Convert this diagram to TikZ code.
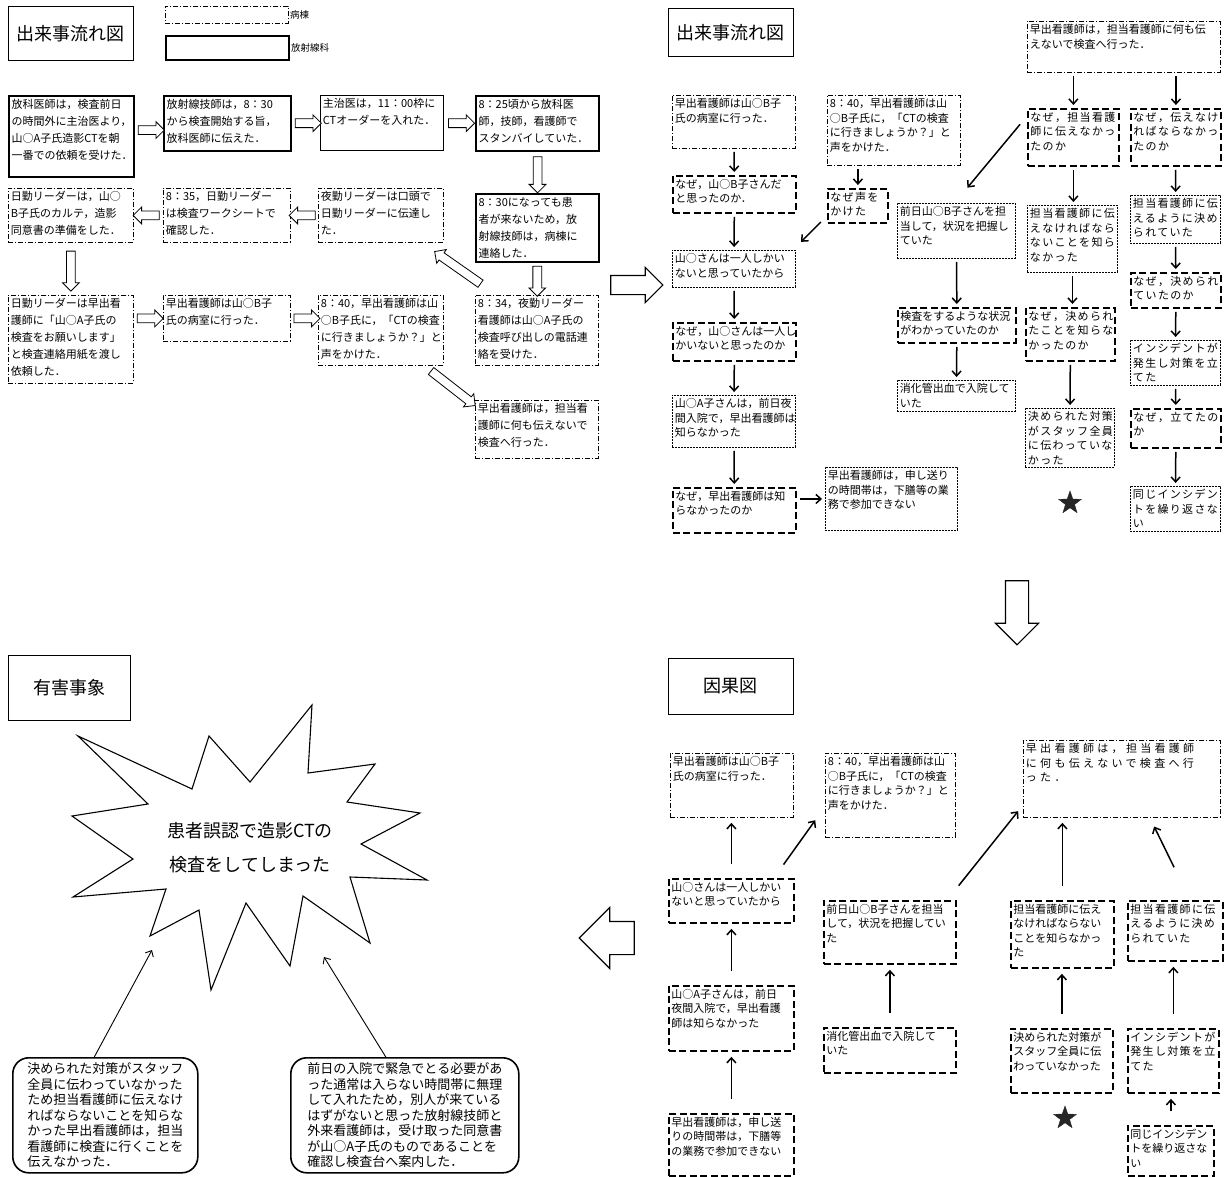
\documentclass[tikz,border=0pt]{standalone}
\usepackage{fontspec}
\setmainfont{Noto Sans CJK JP}
\newfontfamily\spacedjp[LetterSpace=12]{Noto Sans CJK JP}
\newfontfamily\widejp[LetterSpace=30]{Noto Sans CJK JP}
\usetikzlibrary{arrows.meta, shapes.geometric, shapes.arrows, calc}
\newcommand{\boxtext}[3]{\parbox[c][\dimexpr#2pt-6pt\relax][t]{\dimexpr#1pt-5pt\relax}{#3}}

\begin{document}
\begin{tikzpicture}[
    x=1pt, y=-1pt, >={Straight Barb[length=5pt, width=9pt]},
    every node/.style={font=\fontsize{11}{14.5}\selectfont},
    boxbase/.style={anchor=north west, inner xsep=2.5pt, inner ysep=3pt},
    loose/.style={font=\fontsize{11}{17}\selectfont},
    spaced/.style={font=\spacedjp\fontsize{11}{14.5}\selectfont},
    ward/.style={boxbase, draw, line width=0.8pt, dash pattern=on 5pt off 2pt on 1pt off 2pt},
    rad/.style={boxbase, draw, line width=2.2pt},
    plain/.style={boxbase, draw, line width=0.7pt},
    why/.style={boxbase, draw, line width=1.8pt, dash pattern=on 7pt off 3.5pt},
    fact/.style={boxbase, draw, line width=0.9pt, dash pattern=on 2pt off 1pt},
    titlebox/.style={anchor=north west, draw, line width=0.8pt, font=\fontsize{18}{20}\selectfont},
    hollow/.style={shape=single arrow, draw, line width=0.8pt, fill=white, inner sep=4pt, single arrow head extend=4pt, minimum height=26pt},
    bighollow/.style={shape=single arrow, draw, line width=1.1pt, fill=white},
    link/.style={->, line width=1.5pt, shorten <=3pt, shorten >=3pt},
    uplink/.style={link, shorten <=14pt, shorten >=5pt},
    thinlink/.style={->, line width=0.9pt},
    cause/.style={anchor=north west, draw, line width=1.6pt, rounded corners=16pt, align=left, inner xsep=12pt, font=\fontsize{13}{15.5}\selectfont},
    starmark/.style={shape=star, star points=5, star point ratio=2.5, fill=black!85, draw=black!85, minimum size=24pt, inner sep=0pt}
]
\useasboundingbox (0,0) rectangle (1226,1177);

\node[titlebox, minimum width=125pt, minimum height=54pt] (title_flow) at (8,6) {出来事流れ図};
\node[ward, minimum width=123pt, minimum height=17pt] (leg_ward) at (165,6) {};
\node[anchor=west, inner sep=1pt, font=\fontsize{9.5}{11}\selectfont] (leg_ward_txt) at (leg_ward.east) {病棟};
\node[rad, minimum width=123pt, minimum height=24pt, line width=1.8pt] (leg_rad) at (165,35) {};
\node[anchor=west, inner sep=1pt, font=\fontsize{9.5}{11}\selectfont] (leg_rad_txt) at (leg_rad.east) {放射線科};

\node[rad, loose] (a1) at (8,95) {\boxtext{125}{81}{放科医師は，検査前日\\の時間外に主治医より，\\山○A子氏造影CTを朝\\一番での依頼を受けた．}};
\node[rad, loose] (a2) at (163,95) {\boxtext{127}{55}{放射線技師は，8：30\\から検査開始する旨，\\放科医師に伝えた．}};
\node[plain, loose] (a3) at (320,95) {\boxtext{123}{55}{主治医は，11：00枠に\\CTオーダーを入れた．}};
\node[rad, loose] (a4) at (475,95) {\boxtext{123}{55}{8：25頃から放科医\\師，技師，看護師で\\スタンバイしていた．}};
\node[rad, loose] (b4) at (475,193) {\boxtext{123}{68}{8：30になっても患\\者が来ないため，放\\射線技師は，病棟に\\連絡した．}};
\node[ward, loose] (b3) at (318,188) {\boxtext{125}{54}{夜勤リーダーは口頭で\\日勤リーダーに伝達し\\た．}};
\node[ward, loose] (b2) at (163,188) {\boxtext{127}{54}{8：35，日勤リーダー\\は検査ワークシートで\\確認した．}};
\node[ward, loose] (b1) at (8,188) {\boxtext{125}{54}{日勤リーダーは，山○\\B子氏のカルテ，造影\\同意書の準備をした．}};
\node[ward, loose] (c1) at (8,295) {\boxtext{125}{88}{日勤リーダーは早出看\\護師に「山○A子氏の\\検査をお願いします」\\と検査連絡用紙を渡し\\依頼した．}};
\node[ward, loose] (c2) at (163,295) {\boxtext{127}{46}{早出看護師は山○B子\\氏の病室に行った．}};
\node[ward, loose] (c3) at (318,295) {\boxtext{125}{70}{8：40，早出看護師は山\\○B子氏に，「CTの検査\\に行きましょうか？」と\\声をかけた．}};
\node[ward, loose] (c4) at (475,295) {\boxtext{123}{70}{8：34，夜勤リーダー\\看護師は山○A子氏の\\検査呼び出しの電話連\\絡を受けた．}};
\node[ward, loose] (d4) at (475,400) {\boxtext{123}{58}{早出看護師は，担当看\\護師に何も伝えないで\\検査へ行った．}};

\node[hollow] (a1a2) at ($(a1.east)!0.5!(a2.west)$) {};
\node[hollow] (a2a3) at ($(a2.east)!0.5!(a3.west)$) {};
\node[hollow] (a3a4) at ($(a3.east)!0.5!(a4.west)$) {};
\node[hollow, rotate=-90, minimum height=36pt] (a4b4) at ($(a4.south)!0.5!(b4.north)$) {};
\node[hollow, rotate=180] (b3b2) at ($(b3.west)!0.5!(b2.east)$) {};
\node[hollow, rotate=180] (b2b1) at ($(b2.west)!0.5!(b1.east)$) {};
\node[hollow, rotate=-90, minimum height=40pt] (b1c1) at ($(b1.south)!0.5!(c1.north)$) {};
\node[hollow, rotate=-90, minimum height=30pt] (b4c4) at ($(b4.south)!0.5!(c4.north)$) {};
\node[hollow, rotate=145, minimum height=56pt] (c4b3) at ($(c4.north west)!0.5!(b3.south east)$) {};
\node[hollow] (c1c2) at ([xshift=-15pt]c2.west) {};
\node[hollow] (c2c3) at ([xshift=14pt]c2.east) {};
\node[hollow, rotate=-38, minimum height=56pt] (c3d4) at ($(c3.south east)!0.5!(d4.north west)+(-8,4)$) {};

\node[bighollow, inner sep=9pt, single arrow head extend=8pt, minimum height=52pt] (bigright) at (632,285) {};
\node[bighollow, inner sep=11pt, single arrow head extend=10pt, minimum height=64pt, rotate=-90] (bigdown) at (1017,607) {};
\node[bighollow, inner sep=16pt, single arrow head extend=14pt, minimum height=55pt, rotate=180] (bigleft) at (615,938) {};

\node[titlebox, minimum width=125pt, minimum height=48pt] (title_why) at (668,8) {出来事流れ図};
\node[ward] (r1) at (672,95) {\boxtext{123}{53}{早出看護師は山○B子\\氏の病室に行った．}};
\node[why] (r2) at (672,175) {\boxtext{123}{37}{なぜ，山○B子さんだ\\と思ったのか．}};
\node[fact] (r3) at (672,250) {\boxtext{123}{37}{山○さんは一人しかい\\ないと思っていたから}};
\node[why] (r4) at (672,322) {\boxtext{123}{38}{なぜ，山○さんは一人し\\かいないと思ったのか}};
\node[fact] (r5) at (672,395) {\boxtext{123}{52}{山○A子さんは，前日夜\\間入院で，早出看護師は\\知らなかった}};
\node[why] (r6) at (672,487) {\boxtext{123}{45}{なぜ，早出看護師は知\\らなかったのか}};
\node[fact] (r7) at (825,467) {\boxtext{132}{63}{早出看護師は，申し送り\\の時間帯は，下膳等の業\\務で参加できない}};
\node[ward] (s1) at (827,95) {\boxtext{133}{70}{8：40，早出看護師は山\\○B子氏に，「CTの検査\\に行きましょうか？」と\\声をかけた．}};
\node[why, spaced] (s2) at (827,188) {\boxtext{60}{34}{なぜ声を\\かけた}};
\node[fact] (u0) at (897,203) {\boxtext{118}{55}{前日山○B子さんを担\\当して，状況を把握し\\ていた}};
\node[why] (v0) at (897,307) {\boxtext{118}{35}{検査をするような状況\\がわかっていたのか}};
\node[fact] (w0) at (897,380) {\boxtext{118}{31}{消化管出血で入院して\\いた}};
\node[ward] (t0) at (1027,21) {\boxtext{193}{51}{早出看護師は，担当看護師に何も伝\\えないで検査へ行った．}};
\node[why, spaced] (t1) at (1027,108) {\boxtext{91}{57}{なぜ，担当看護\\師に伝えなかっ\\たのか}};
\node[why, spaced] (t2) at (1130,108) {\boxtext{90}{57}{なぜ，伝えなけ\\ればならなかっ\\たのか}};
\node[fact, spaced] (u1) at (1027,205) {\boxtext{90}{67}{担当看護師に伝\\えなければなら\\ないことを知ら\\なかった}};
\node[fact, spaced] (u2) at (1130,195) {\boxtext{90}{48}{担当看護師に伝\\えるように決め\\られていた}};
\node[why, spaced] (v1) at (1025,307) {\boxtext{89}{53}{なぜ，決められ\\たことを知らな\\かったのか}};
\node[why, spaced] (v2) at (1130,272) {\boxtext{90}{35}{なぜ，決められ\\ていたのか}};
\node[fact, spaced] (w1) at (1025,408) {\boxtext{89}{59}{決められた対策\\がスタッフ全員\\に伝わっていな\\かった}};
\node[fact, spaced] (w2) at (1130,340) {\boxtext{90}{45}{インシデントが\\発生し対策を立\\てた}};
\node[why, spaced] (x2) at (1130,408) {\boxtext{90}{39}{なぜ，立てたの\\か}};
\node[fact, spaced] (y2) at (1130,486) {\boxtext{90}{45}{同じインシデン\\トを繰り返さな\\い}};
\node[starmark] (star_why) at (1070,503) {};

\draw[link] (r1) -- (r2);
\draw[link] (r2) -- (r3);
\draw[link] (r3) -- (r4);
\draw[link] (r4) -- (r5);
\draw[link] (r5) -- (r6);
\draw[link] (r6.east |- r7.west) -- (r7.west);
\draw[link] (s2.north |- s1.south) -- (s2.north);
\draw[link] ([xshift=-4pt,yshift=4pt]s2.south west) -- ([xshift=3pt,yshift=6pt]r3.north east);
\draw[link] (t1.north |- t0.south) -- (t1.north);
\draw[link] (t2.north |- t0.south) -- (t2.north);
\draw[link] ([xshift=-5pt,yshift=-14pt]t1.north west) -- ([xshift=9pt,yshift=13pt]u0.north);
\draw[link] (t1.south) -- (t1.south |- u1.north);
\draw[link] (u0) -- (v0);
\draw[link] (v0) -- (w0);
\draw[link] (u1.south) -- (u1.south |- v1.north);
\draw[link] (v1) -- (w1);
\draw[link] (t2) -- (u2);
\draw[link] (u2) -- (v2);
\draw[link] (v2) -- (w2);
\draw[link] (w2) -- (x2);
\draw[link] (x2) -- (y2);

\node[titlebox, minimum width=125pt, minimum height=56pt] (title_cause) at (668,658) {因果図};
\node[ward] (p1) at (670,753) {\boxtext{123}{64}{早出看護師は山○B子\\氏の病室に行った．}};
\node[ward] (p1b) at (825,753) {\boxtext{130}{84}{8：40，早出看護師は山\\○B子氏に，「CTの検査\\に行きましょうか？」と\\声をかけた．}};
\node[why] (p2) at (668,878) {\boxtext{125}{44}{山○さんは一人しかい\\ないと思っていたから}};
\node[why] (p3) at (668,985) {\boxtext{125}{65}{山○A子さんは，前日\\夜間入院で，早出看護\\師は知らなかった}};
\node[why] (p4) at (668,1113) {\boxtext{125}{62}{早出看護師は，申し送\\りの時間帯は，下膳等\\の業務で参加できない}};
\node[why] (q1) at (823,900) {\boxtext{132}{63}{前日山○B子さんを担当\\して，状況を把握してい\\た}};
\node[why] (q2) at (823,1027) {\boxtext{132}{45}{消化管出血で入院して\\いた}};
\node[ward, font=\widejp\fontsize{11}{14.5}\selectfont] (k0) at (1023,740) {\boxtext{197}{77}{早出看護師は，担当看護師\\に何も伝えないで検査へ行\\った．}};
\node[why] (k1) at (1010,900) {\boxtext{103}{67}{担当看護師に伝え\\なければならない\\ことを知らなかっ\\た}};
\node[why, spaced] (k2) at (1127,900) {\boxtext{95}{60}{担当看護師に伝\\えるように決め\\られていた}};
\node[why] (l1) at (1010,1028) {\boxtext{102}{64}{決められた対策が\\スタッフ全員に伝\\わっていなかった}};
\node[why, spaced] (l2) at (1127,1028) {\boxtext{91}{64}{インシデントが\\発生し対策を立\\てた}};
\node[why] (l3) at (1127,1125) {\boxtext{86}{50}{同じインシデン\\トを繰り返さな\\い}};
\node[starmark] (star_cause) at (1065,1118) {};

\draw[uplink] (p2.north) -- (p2.north |- p1.south);
\draw[uplink] (p3) -- (p2);
\draw[uplink] (p4) -- (p3);
\draw[link] ([xshift=-13pt,yshift=11pt]p2.north east) -- ([xshift=-8pt,yshift=20pt]p1b.south west);
\draw[uplink] (q2) -- (q1);
\draw[link] ([yshift=12pt]q1.north east) -- ([xshift=-3pt,yshift=9pt]k0.south west);
\draw[uplink] (k1.north) -- (k1.north |- k0.south);
\draw[link] ([yshift=30pt]k2.north) -- ([xshift=-68pt,yshift=-6pt]k0.south east);
\draw[uplink] (l1.north) -- (l1.north |- k1.south);
\draw[uplink] (l2.north) -- (l2.north |- k2.south);
\draw[uplink] (l3.north) -- (l3.north |- l2.south);

\node[titlebox, minimum width=122pt, minimum height=65pt] (title_harm) at (8,655) {有害事象};
\draw[line width=1.1pt] (78,736) -- (192,789) -- (209,736) -- (250,782) -- (312,705) -- (308,773)
    -- (375,764) -- (347,802) -- (420,813) -- (361,844) -- (427,880) -- (350,877) -- (370,943)
    -- (303,896) -- (290,966) -- (246,903) -- (211,990) -- (199,910) -- (150,936) -- (166,889)
    -- (73,897) -- (133,859) -- (72,816) -- (148,804) -- cycle;
\node[font=\fontsize{18}{34}\selectfont, align=center] (harm) at (250,848) {患者誤認で造影CTの\\検査をしてしまった};
\node[cause, minimum width=185pt, minimum height=115pt] (cause1) at (12,1057) {決められた対策がスタッフ\\全員に伝わっていなかった\\ため担当看護師に伝えなけ\\ればならないことを知らな\\かった早出看護師は，担当\\看護師に検査に行くことを\\伝えなかった．};
\node[cause, minimum width=228pt, minimum height=115pt] (cause2) at (290,1057) {前日の入院で緊急でとる必要があ\\った通常は入らない時間帯に無理\\して入れたため，別人が来ている\\はずがないと思った放射線技師と\\外来看護師は，受け取った同意書\\が山○A子氏のものであることを\\確認し検査台へ案内した．};
\coordinate (hit1) at (152,950);
\coordinate (hit2) at (324,957);
\draw[thinlink] ([xshift=-11pt]cause1.north) -- (hit1);
\draw[thinlink] ([xshift=-19pt]cause2.north) -- (hit2);
\end{tikzpicture}
\end{document}
